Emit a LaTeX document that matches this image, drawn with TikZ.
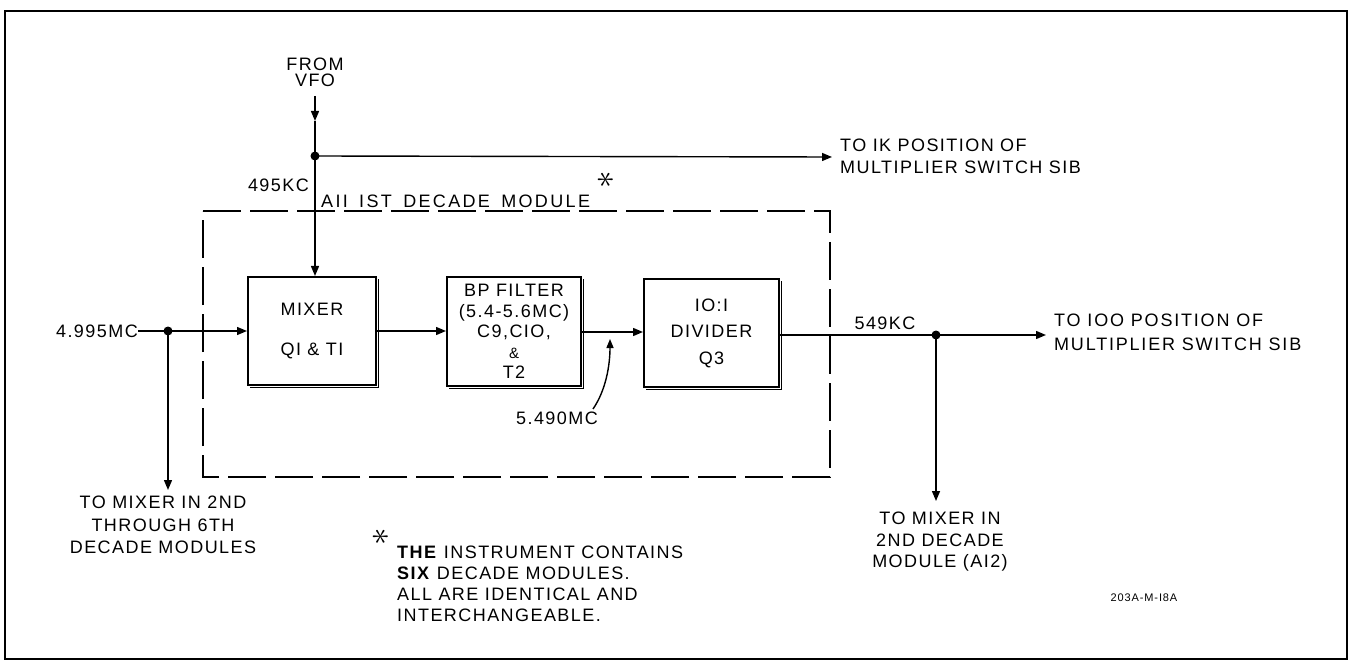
\documentclass[tikz,border=0pt]{standalone}
\usepackage{fontspec}
\usepackage{graphicx}
\setmainfont[LetterSpace=8]{Liberation Sans}
\usetikzlibrary{arrows.meta}
\tikzset{
  wire/.style={line width=1.4pt},
  arr/.style={wire,-{Triangle[length=10pt,width=8pt]}},
  blk/.style={draw,line width=2pt,align=center,inner sep=0pt},
  shadowline/.style={line width=1.4pt},
  lbl/.style={inner sep=0pt,align=center,font=\fontsize{18}{22}\selectfont},
  starmark/.style={inner sep=0pt,rotate=90},
  dot/.style={circle,fill,inner sep=0pt,minimum size=9pt},
  dashedbox/.style={line width=2pt,dash pattern=on 38pt off 9pt},
}
\newcommand{\bigstarmark}{\scalebox{3.5}{$\ast$}}
\begin{document}
\begin{tikzpicture}[x=1pt,y=-1pt]
\useasboundingbox (0,0) rectangle (1351,660);
\fill[white] (0,0) rectangle (1351,660);
\draw[line width=2pt] (5,11) rectangle (1347,659);

% module outline
\draw[dashedbox] (203,211) -- (830,211) -- (830,477) -- (203,477) -- cycle;
\node[lbl,anchor=south west,font=\fontsize{18}{22}\selectfont\addfontfeature{LetterSpace=13}] (modlbl) at (321,208) {AII\hspace{4pt} IST\hspace{4pt} DECADE\hspace{4pt} MODULE};
\node[starmark] (star1) at (606,180) {\bigstarmark};

% blocks
\node[blk,minimum width=128pt,minimum height=108pt,font=\fontsize{18}{40}\selectfont] (mixer) at (312,331) {MIXER\\QI \& TI};
\node[blk,minimum width=134pt,minimum height=109pt,font=\fontsize{18}{20.5}\selectfont] (bp) at (514,331.5) {BP FILTER\\(5.4-5.6MC)\\C9,CIO,\\{\fontsize{15}{15}\selectfont\&}\\T2};
\node[blk,minimum width=135pt,minimum height=108pt,font=\fontsize{18}{26.5}\selectfont] (div) at (711.5,333) {IO:I\\DIVIDER\\Q3};
\foreach \b in {mixer,bp,div}{
  \draw[shadowline] ([shift={(1.5,3)}]\b.north east) -- ([shift={(1.5,1.5)}]\b.south east) -- ([shift={(3,1.5)}]\b.south west);
}

% VFO input
\node[lbl,font=\fontsize{18}{16}\selectfont] (vfo) at (315,72) {FROM\\VFO};
\coordinate (vfotop) at (315,96);
\coordinate (vfomid) at (315,121);
\node[dot] (j1) at (315,156) {};
\draw[arr] (vfotop) -- (vfomid);
\draw[wire] (vfomid) -- (j1.center);
\draw[arr] (j1.center) -- (j1 |- mixer.north);
\coordinate (to1k) at (832,157);
\draw[arr] (j1.center) -- (to1k);
\node[lbl,align=left,anchor=west] (t1k) at (840,156) {TO IK POSITION OF\\MULTIPLIER SWITCH SIB};
\node[lbl,anchor=east] (f495) at (309,185) {495KC};

% 4.995MC input
\node[lbl,anchor=east] (in) at (138,331) {4.995MC};
\node[dot] (j2) at (168,331) {};
\draw[wire] (in.east) -- (j2.center);
\draw[arr] (j2.center) -- (mixer.west);
\coordinate (tomix) at (168,490);
\draw[arr] (j2.center) -- (tomix);
\node[lbl,font=\fontsize{18}{22.5}\selectfont] (tmixtxt) at (163,525) {TO MIXER IN 2ND\\THROUGH 6TH\\DECADE MODULES};

% chain
\draw[arr] (mixer.east) -- (mixer.east -| bp.west);
\draw[arr] (bp.east |- 0,332) -- (div.west |- 0,332);
\node[lbl] (f5490) at (557,418) {5.490MC};
\coordinate (f5tip) at (610,339);
\draw[wire,-{Triangle[length=9pt,width=7pt]}] (593,409) .. controls (606,390) and (610,365) .. (f5tip);

% output
\node[dot] (j3) at (936,335) {};
\draw[wire] (div.east |- j3) -- (j3.center);
\coordinate (to100) at (1046,335);
\draw[arr] (j3.center) -- (to100);
\node[lbl,align=left,anchor=west,font=\fontsize{18}{24}\selectfont\addfontfeature{LetterSpace=10}] (t100) at (1054,332.5) {TO IOO POSITION OF\\MULTIPLIER SWITCH SIB};
\node[lbl] (f549) at (885,323) {549KC};
\coordinate (tomix2) at (936,501);
\draw[arr] (j3.center) -- (tomix2);
\node[lbl,font=\fontsize{18}{21.5}\selectfont] (tmix2txt) at (940,542) {TO MIXER IN\\2ND DECADE\\MODULE (AI2)};

% footnote
\node[starmark] (star2) at (381,537) {\bigstarmark};
\node[lbl,align=left,anchor=west,font=\fontsize{18}{21}\selectfont] (note) at (397,583.5) {\textbf{THE} INSTRUMENT CONTAINS\\\textbf{SIX} DECADE MODULES.\\ALL ARE IDENTICAL AND\\INTERCHANGEABLE.};

\node[lbl,font=\fontsize{11}{11}\selectfont] (code) at (1144,598) {203A-M-I8A};
\end{tikzpicture}
\end{document}
